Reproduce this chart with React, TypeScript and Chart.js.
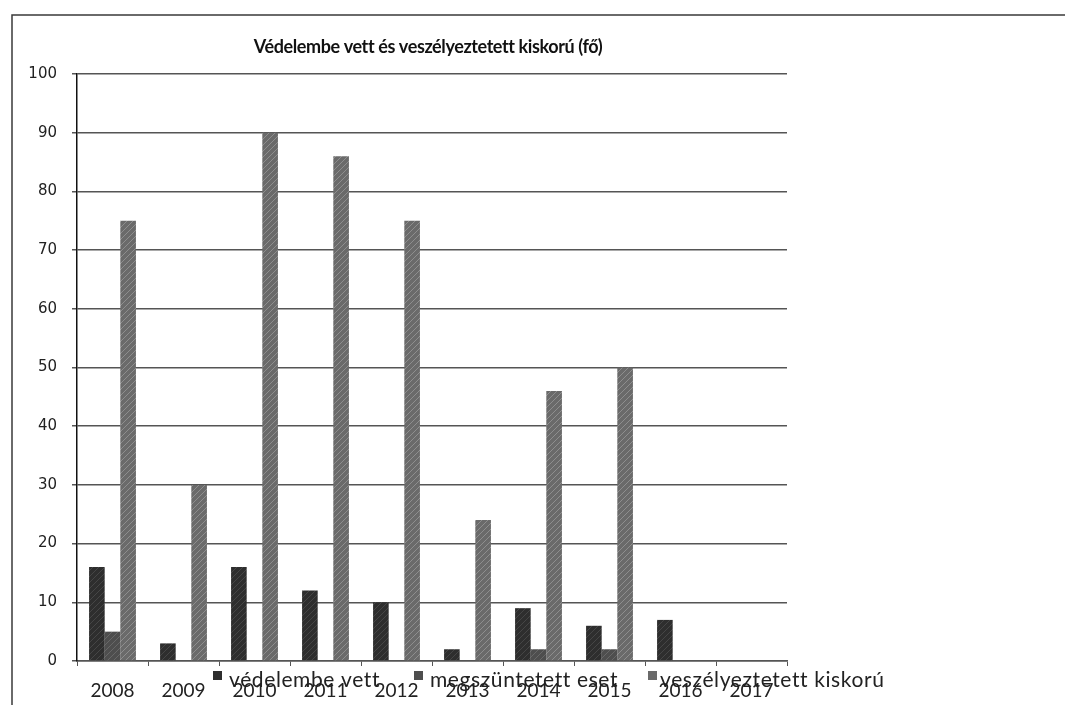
import React, { useEffect, useRef } from "react";
import { Chart, registerables } from "chart.js";

Chart.register(...registerables);

const categories = ["2008", "2009", "2010", "2011", "2012", "2013", "2014", "2015", "2016", "2017"];
const vedelembeVett = [16, 3, 16, 12, 10, 2, 9, 6, 7, 0];
const megszuntetettEset = [5, 0, 0, 0, 0, 0, 2, 2, 0, 0];
const veszelyeztetettKiskoru = [75, 30, 90, 86, 75, 24, 46, 50, 0, 0];
const seriesLabels = ["védelembe vett", "megszüntetett eset", "veszélyeztetett kiskorú"];
const yTicks = [0, 10, 20, 30, 40, 50, 60, 70, 80, 90, 100];
const titleText = "Védelembe vett és veszélyeztetett kiskorú (fő)";

const colors = ["#2e2e2e", "#4e4e4e", "#6a6a6a"];
const stripes = ["#464646", "#686868", "#8e8e8e"];

function makePattern(base: string, stripe: string) {
  const c = document.createElement("canvas");
  c.width = 6;
  c.height = 6;
  const g = c.getContext("2d")!;
  g.fillStyle = base;
  g.fillRect(0, 0, 6, 6);
  g.strokeStyle = stripe;
  g.lineWidth = 1;
  g.beginPath();
  g.moveTo(0, 6);
  g.lineTo(6, 0);
  g.stroke();
  return g.createPattern(c, "repeat")!;
}

const framePlugin = {
  id: "frame",
  beforeDraw(chart: any) {
    const ctx = chart.ctx;
    ctx.save();
    ctx.fillStyle = "#ffffff";
    ctx.fillRect(0, 0, chart.width, chart.height);
    ctx.strokeStyle = "#3a3a3a";
    ctx.lineWidth = 1.5;
    ctx.beginPath();
    ctx.moveTo(12, chart.height);
    ctx.lineTo(12, 15);
    ctx.lineTo(chart.width, 15);
    ctx.stroke();
    ctx.restore();
  },
};

const titlePlugin = {
  id: "customTitle",
  afterDraw(chart: any) {
    const ctx = chart.ctx;
    ctx.save();
    ctx.font = "bold 18px Lato";
    (ctx as any).letterSpacing = "-0.4px";
    ctx.fillStyle = "#111";
    ctx.textAlign = "center";
    ctx.textBaseline = "middle";
    ctx.fillText(titleText, 428, 47);
    ctx.restore();
  },
};

const legendTextX = [229, 430, 660];
const legendSwatchX = [213, 414, 648];

const customLegend = {
  id: "customLegend",
  afterDraw(chart: any) {
    const ctx = chart.ctx;
    ctx.save();
    ctx.font = "21px Lato";
    (ctx as any).letterSpacing = "0.6px";
    ctx.textBaseline = "alphabetic";
    ctx.textAlign = "left";
    chart.data.datasets.forEach((ds: any, i: number) => {
      ctx.fillStyle = colors[i];
      ctx.fillRect(legendSwatchX[i], 671, 9, 9);
      ctx.fillStyle = "#222";
      ctx.fillText(ds.label, legendTextX[i], 687);
    });
    ctx.restore();
  },
};

export default function App() {
  const ref = useRef<HTMLCanvasElement>(null);
  useEffect(() => {
    const canvas = ref.current!;
    const chart = new Chart(canvas, {
      type: "bar",
      data: {
        labels: categories,
        datasets: [
          { label: seriesLabels[0], data: vedelembeVett, backgroundColor: makePattern(colors[0], stripes[0]) },
          { label: seriesLabels[1], data: megszuntetettEset, backgroundColor: makePattern(colors[1], stripes[1]) },
          { label: seriesLabels[2], data: veszelyeztetettKiskoru, backgroundColor: makePattern(colors[2], stripes[2]) },
        ],
      },
      options: {
        responsive: false,
        animation: false,
        devicePixelRatio: 1,
        layout: { padding: { left: 20, right: 278, top: 74, bottom: 0 } },
        datasets: { bar: { categoryPercentage: 0.66, barPercentage: 1.0 } },
        plugins: {
          legend: { display: false },
          tooltip: { enabled: false },
          title: { display: false },
        },
        scales: {
          x: {
            grid: { drawOnChartArea: false, drawTicks: true, tickLength: 5, color: "#555" },
            border: { color: "#555", width: 1.5 },
            ticks: { color: "#222", font: { family: "Lato", size: 19 }, padding: 13, maxRotation: 0 },
            afterFit: (s: any) => {
              s.height = 44;
            },
          },
          y: {
            min: 0,
            max: 100,
            afterBuildTicks: (s: any) => {
              s.ticks = yTicks.map((v) => ({ value: v }));
            },
            grid: { color: "#555", lineWidth: 1.5, tickLength: 5, drawTicks: true },
            border: { color: "#111", width: 1.5 },
            ticks: { color: "#222", font: { family: "DejaVu Sans", size: 15 }, padding: 15 },
            afterFit: (s: any) => {
              s.width = 57;
            },
          },
        },
      },
      plugins: [framePlugin, titlePlugin, customLegend],
    });
    return () => chart.destroy();
  }, []);
  return (
    <div style={{ position: "fixed", left: 0, top: 0, width: 1065, height: 705 }}>
      <canvas ref={ref} width={1065} height={705} style={{ width: 1065, height: 705 }} />
    </div>
  );
}
